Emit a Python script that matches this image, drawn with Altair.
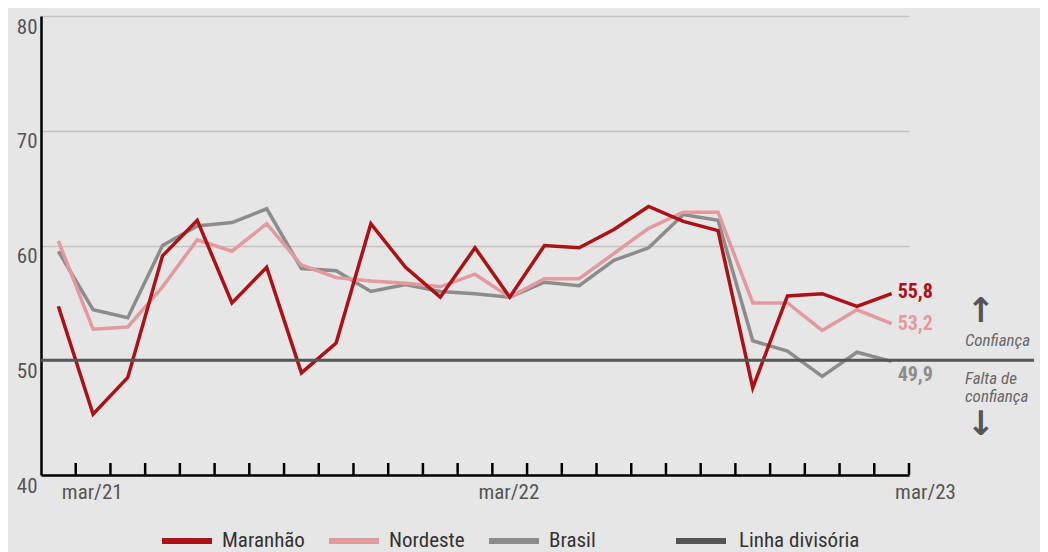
import altair as alt
import pandas as pd

# ---- data ----
months = ["fev/21", "mar/21", "abr/21", "mai/21", "jun/21", "jul/21", "ago/21", "set/21",
          "out/21", "nov/21", "dez/21", "jan/22", "fev/22", "mar/22", "abr/22", "mai/22",
          "jun/22", "jul/22", "ago/22", "set/22", "out/22", "nov/22", "dez/22", "jan/23", "fev/23"]
maranhao = [54.7, 45.3, 48.5, 59.1, 62.2, 55.0, 58.1, 48.9, 51.5, 61.9, 58.1, 55.5, 59.8,
            55.5, 60.0, 59.8, 61.4, 63.4, 62.1, 61.3, 47.6, 55.6, 55.8, 54.7, 55.8]
nordeste = [60.4, 52.7, 52.9, 56.4, 60.5, 59.5, 61.9, 58.3, 57.2, 56.9, 56.7, 56.4, 57.5,
            55.5, 57.1, 57.1, 59.3, 61.5, 62.9, 62.9, 55.0, 55.0, 52.6, 54.4, 53.2]
brasil = [59.5, 54.4, 53.7, 60.0, 61.7, 62.0, 63.2, 58.0, 57.8, 56.0, 56.6, 56.0, 55.8,
          55.5, 56.8, 56.5, 58.7, 59.8, 62.7, 62.2, 51.7, 50.8, 48.6, 50.7, 49.9]
series_names = ["Maranhão", "Nordeste", "Brasil"]
series_colors = ["#ad1116", "#e39a9e", "#8c8c8c"]
divisor_name = "Linha divisória"
divisor_value = [50]
divisor_color = "#555555"
x_tick_labels = ["mar/21", "mar/22", "mar/23"]
x_tick_label_pos = [0.5, 12.5, 24.5]   # month boundaries where labels sit
y_ticks = [40, 50, 60, 70, 80]

FONT = "'Liberation Sans Narrow', 'Roboto Condensed', Roboto, sans-serif"

W, H = 868, 459

rows = []
for name, vals in [("Brasil", brasil), ("Nordeste", nordeste), ("Maranhão", maranhao)]:
    for i, (m, v) in enumerate(zip(months, vals)):
        rows.append({"i": i, "mes": m, "serie": name, "valor": v})
df = pd.DataFrame(rows)

ticks_df = pd.DataFrame({"t": [i + 0.5 for i in range(len(months))]})

xscale = alt.Scale(domain=[-0.5, len(months) - 0.5], nice=False, zero=False)
yscale = alt.Scale(domain=[40, 80], nice=False, zero=False)

label_expr = " : ".join(
    f"datum.value == {p} ? '{l}'" for p, l in zip(x_tick_label_pos, x_tick_labels)
) + " : ''"

x_axis = alt.Axis(values=x_tick_label_pos, labelExpr=label_expr, ticks=False, grid=False,
                  domainColor="black", domainWidth=2.5, labelFont=FONT, labelFontSize=21,
                  labelColor="#555555", labelPadding=6, labelOffset=16, labelFlush=False,
                  labelOverlap=False, title=None)
y_axis = alt.Axis(values=y_ticks, grid=True, gridColor="#c4c4c4", gridWidth=1.5, ticks=False,
                  domainColor="black", domainWidth=2.5, labelFont=FONT, labelFontSize=21,
                  labelColor="#555555", labelBaseline="top", labelPadding=4, labelOffset=0,
                  labelFlush=False, title=None)

base = alt.Chart(df)

legend_common = dict(orient="none", direction="horizontal", title=None,
                     symbolType="stroke", symbolSize=2500, symbolStrokeWidth=6,
                     labelFont=FONT, labelFontSize=21, labelColor="#333333")

lines = base.mark_line(strokeWidth=3.5, strokeJoin="miter").encode(
    x=alt.X("i:Q", scale=xscale, axis=x_axis),
    y=alt.Y("valor:Q", scale=yscale, axis=y_axis),
    color=alt.Color("serie:N",
                    scale=alt.Scale(domain=series_names, range=series_colors),
                    sort=series_names,
                    legend=alt.Legend(legendX=118, legendY=497, labelOffset=7,
                                      columnPadding=12, **legend_common)),
    detail="serie:N",
)

rule_df = pd.DataFrame({"v": divisor_value, "s": [divisor_name]})
rule = alt.Chart(rule_df).mark_rule(strokeWidth=3, clip=False).encode(
    y=alt.Y("v:Q", scale=yscale),
    x=alt.value(0),
    x2=alt.value(W + 125),
    color=alt.Color("s:N", scale=alt.Scale(domain=[divisor_name], range=[divisor_color]),
                    legend=alt.Legend(legendX=632, legendY=497, labelOffset=10,
                                      **legend_common)),
)

tick_rules = alt.Chart(ticks_df).mark_rule(color="black", strokeWidth=2.5).encode(
    x=alt.X("t:Q", scale=xscale),
    y=alt.value(H - 12),
    y2=alt.value(H),
)

end_layers = []
for name, color, dy in zip(series_names, series_colors, [-2, 0, 14]):
    d = df[(df["serie"] == name) & (df["i"] == len(months) - 1)].copy()
    d["lab"] = d["valor"].map(lambda v: f"{v:.1f}".replace(".", ","))
    end_layers.append(
        alt.Chart(d).mark_text(align="left", baseline="middle", dx=6, dy=dy, font=FONT,
                               fontSize=20, fontWeight="bold", color=color, clip=False).encode(
            x=alt.X("i:Q", scale=xscale), y=alt.Y("valor:Q", scale=yscale), text="lab:N")
    )

side_texts = [("Confiança", -19), ("Falta de", 19), ("confiança", 37)]
side_layers = []
for txt, dy in side_texts:
    side_layers.append(
        alt.Chart(rule_df).mark_text(align="left", baseline="middle", dy=dy, font=FONT,
                                     fontSize=17, fontStyle="italic", color="#666666").encode(
            x=alt.value(924), y=alt.Y("v:Q", scale=yscale), text=alt.value(txt))
    )
for arrow, dy in [("↑", -48), ("↓", 65)]:
    side_layers.append(
        alt.Chart(rule_df).mark_text(align="center", baseline="middle", dy=dy,
                                     font="DejaVu Sans", fontSize=34, fontWeight="bold",
                                     color="#555555").encode(
            x=alt.value(940), y=alt.Y("v:Q", scale=yscale), text=alt.value(arrow))
    )

chart = alt.layer(lines, rule, tick_rules, *end_layers, *side_layers).resolve_scale(
    color="independent"
).properties(
    width=W, height=H,
    autosize=alt.AutoSizeParams(type="none"),
    padding={"left": 33, "top": 8, "right": 131, "bottom": 77},
    background="#e6e6e6",
).configure_view(stroke=None)

chart.save("out.html", embed_options={"renderer": "svg", "actions": False})
